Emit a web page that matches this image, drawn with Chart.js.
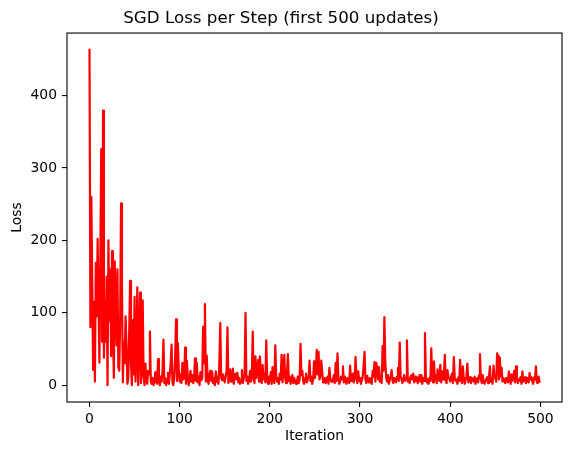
<!DOCTYPE html>
<html>
<head>
<meta charset="utf-8">
<script src="https://cdn.jsdelivr.net/npm/chart.js@4"></script>
<style>
html,body{margin:0;padding:0;background:#fff;}
canvas{display:block;}
</style>
</head>
<body>
<canvas id="c" width="571" height="455"></canvas>
<script>
const chartTitle = "SGD Loss per Step (first 500 updates)";
const xLabel = "Iteration";
const yLabel = "Loss";
const xTicks = [0, 100, 200, 300, 400, 500];
const yTicks = [0, 100, 200, 300, 400];
const losses = [
463, 80, 260, 150, 21, 115, 5, 169, 95, 202,
120, 31, 170, 326, 60, 379, 38, 118, 60, 150,
0, 200, 88, 160, 40, 185, 78, 10, 171, 115,
55, 160, 25, 20, 90, 251, 136, 4, 60, 30,
95, 58, 2, 10, 70, 144, 30, 0, 90, 15,
122, 5, 40, 135, 0, 60, 128, 3, 25, 117,
12, 0, 30, 8, 2, 20, 15, 74, 5, 2,
10, 0, 4, 18, 6, 2, 36, 8, 0, 12,
5, 20, 63, 3, 10, 0, 8, 17, 2, 14,
30, 56, 4, 0, 12, 40, 91, 6, 58, 21,
5, 15, 3, 31, 8, 10, 52, 2, 34, 12,
0, 8, 20, 5, 14, 3, 10, 37, 6, 31,
4, 12, 0, 18, 7, 10, 81, 30, 112, 5,
41, 8, 2, 15, 20, 6, 19, 3, 10, 0,
19, 5, 12, 2, 30, 86, 10, 7, 15, 9,
4, 12, 20, 80, 3, 8, 22, 5, 10, 23,
2, 14, 16, 8, 17, 4, 10, 2, 6, 21,
3, 9, 15, 100, 6, 12, 2, 7, 20, 5,
15, 74, 8, 3, 40, 10, 20, 35, 5, 40,
12, 3, 28, 8, 15, 4, 62, 10, 2, 12,
6, 18, 2, 25, 8, 3, 55, 14, 5, 10,
2, 16, 8, 42, 4, 20, 42, 10, 3, 15,
43, 6, 12, 2, 8, 14, 3, 10, 5, 2,
6, 12, 3, 8, 57, 14, 20, 5, 2, 10,
16, 4, 8, 12, 34, 6, 12, 2, 8, 33,
10, 20, 49, 15, 46, 8, 12, 34, 20, 4,
6, 10, 3, 8, 12, 2, 24, 10, 5, 5,
8, 14, 3, 31, 6, 44, 10, 2, 5, 12,
8, 26, 4, 12, 5, 2, 10, 8, 3, 27,
6, 12, 16, 4, 8, 39, 14, 3, 19, 6,
10, 2, 7, 12, 28, 46, 8, 3, 13, 6,
4, 10, 8, 2, 20, 12, 32, 5, 31, 24,
8, 25, 5, 12, 3, 54, 20, 94, 33, 10,
5, 14, 2, 8, 12, 21, 6, 3, 10, 9,
4, 12, 24, 6, 59, 12, 8, 3, 8, 14,
6, 10, 62, 5, 9, 3, 12, 14, 8, 16,
4, 12, 6, 11, 3, 8, 14, 5, 14, 2,
10, 6, 72, 12, 4, 8, 2, 10, 6, 51,
12, 4, 33, 8, 14, 3, 22, 10, 6, 28,
4, 19, 8, 12, 42, 6, 3, 21, 10, 9,
5, 12, 16, 3, 39, 10, 6, 8, 2, 11,
6, 35, 8, 3, 26, 10, 2, 7, 12, 30,
4, 8, 11, 3, 10, 8, 5, 12, 2, 6,
10, 4, 14, 43, 8, 3, 14, 6, 2, 6,
8, 11, 3, 12, 26, 5, 8, 2, 27, 10,
12, 5, 44, 40, 8, 38, 12, 24, 5, 10,
6, 3, 10, 9, 4, 19, 8, 2, 15, 6,
10, 20, 4, 26, 12, 3, 6, 8, 11, 2,
19, 5, 8, 11, 3, 6, 10, 4, 17, 8,
11, 5, 2, 11, 8, 26, 4, 3, 12, 5
];
const iterations = losses.map((_, i) => i);

const FONT = "'DejaVu Sans', sans-serif";
const nData = iterations.length - 1;
const yMaxData = Math.max(...losses), yMinData = Math.min(...losses);
const xPad = nData * 0.05, yPad = (yMaxData - yMinData) * 0.05;

const frame = {
  id: 'frame',
  afterDatasetsDraw(chart) {
    const {ctx, chartArea: a} = chart;
    ctx.save();
    ctx.strokeStyle = '#000';
    ctx.lineWidth = 1.1;
    ctx.strokeRect(a.left, a.top, a.right - a.left, a.bottom - a.top);
    ctx.restore();
  }
};

new Chart(document.getElementById('c'), {
  type: 'line',
  data: {
    datasets: [{
      data: losses.map((v, i) => ({x: iterations[i], y: v})),
      borderColor: '#ff0000',
      borderWidth: 2.2,
      borderJoinStyle: 'round',
      borderCapStyle: 'square',
      pointRadius: 0,
      tension: 0,
      fill: false
    }]
  },
  options: {
    responsive: false,
    animation: false,
    devicePixelRatio: 1,
    layout: {padding: {left: 0, right: 9, top: 0, bottom: 0}},
    plugins: {
      legend: {display: false},
      tooltip: {enabled: false},
      title: {
        display: true,
        text: chartTitle,
        color: '#000',
        font: {family: FONT, size: 16.7, weight: 'normal'},
        padding: {top: 9, bottom: 4}
      }
    },
    scales: {
      x: {
        type: 'linear',
        min: -xPad, max: nData + xPad,
        afterBuildTicks: s => { s.ticks = xTicks.map(v => ({value: v})); },
        afterFit: s => { s.height = 53; },
        ticks: {color: '#000', font: {family: FONT, size: 13.9}, padding: 4, maxRotation: 0, autoSkip: false},
        grid: {drawOnChartArea: false, drawTicks: true, tickLength: 5, color: '#000', lineWidth: 1.1},
        border: {display: false},
        title: {display: true, text: xLabel, color: '#000', font: {family: FONT, size: 13.9}, padding: {top: 4, bottom: 10}}
      },
      y: {
        type: 'linear',
        min: yMinData - yPad, max: yMaxData + yPad,
        afterBuildTicks: s => { s.ticks = yTicks.map(v => ({value: v})); },
        afterFit: s => { s.width = 67; },
        ticks: {color: '#000', font: {family: FONT, size: 13.9}, padding: 5, autoSkip: false},
        grid: {drawOnChartArea: false, drawTicks: true, tickLength: 5, color: '#000', lineWidth: 1.1},
        border: {display: false},
        title: {display: true, text: yLabel, color: '#000', font: {family: FONT, size: 13.9}, padding: {top: 9, bottom: 4}}
      }
    }
  },
  plugins: [frame]
});
</script>
</body>
</html>
